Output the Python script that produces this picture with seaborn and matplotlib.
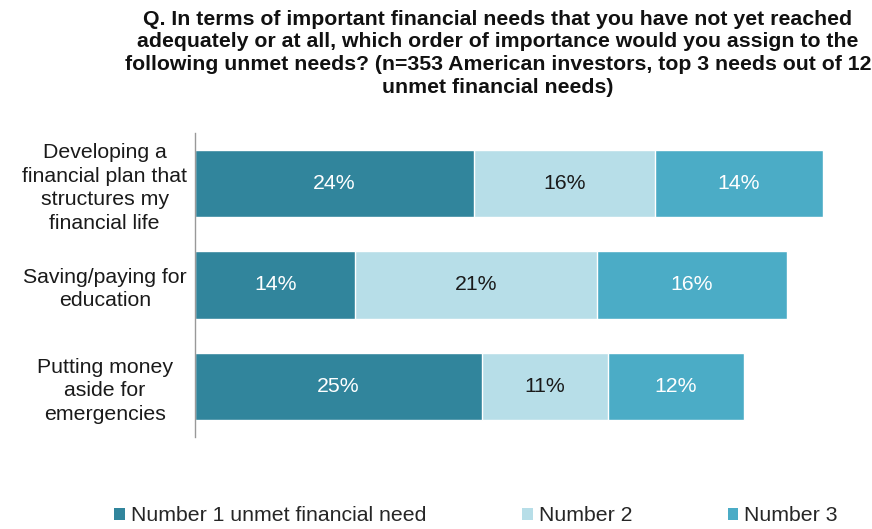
import matplotlib
matplotlib.use("Agg")
import matplotlib.pyplot as plt
import numpy as np
import pandas as pd
import seaborn as sns
from matplotlib.patches import Patch

categories = [
    "Developing a\nfinancial plan that\nstructures my\nfinancial life",
    "Saving/paying for\neducation",
    "Putting money\naside for\nemergencies",
]
series_names = ["Number 1 unmet financial need", "Number 2", "Number 3"]
need_1 = [24.0, 13.8, 24.7]
need_2 = [15.6, 20.8, 10.8]
need_3 = [14.4, 16.3, 11.7]
colors = ["#31859C", "#B7DEE8", "#4BACC6"]
text_colors = ["white", "#1a1a1a", "white"]

title = ("Q. In terms of important financial needs that you have not yet reached\n"
         "adequately or at all, which order of importance would you assign to the\n"
         "following unmet needs? (n=353 American investors, top 3 needs out of 12\n"
         "unmet financial needs)")

sns.set_style("white")
plt.rcParams["font.family"] = ["Liberation Sans", "DejaVu Sans"]
fs = 15.3

df = pd.DataFrame({"need": categories, "n1": need_1, "n2": need_2, "n3": need_3})
df["c1"] = df["n1"]
df["c2"] = df["n1"] + df["n2"]
df["c3"] = df["c2"] + df["n3"]

fig = plt.figure(figsize=(8.72, 5.29), dpi=100)
ax = fig.add_axes([0.2236, 0.1739, 0.7332, 0.5747])

# layered cumulative bars, widest first
for col, color in zip(["c3", "c2", "c1"], colors[::-1]):
    sns.barplot(data=df, x=col, y="need", color=color, width=0.667,
                saturation=1, ax=ax, orient="h")

# centered value labels
for i in range(len(categories)):
    left = 0
    for key, tc in zip(["n1", "n2", "n3"], text_colors):
        v = df[key][i]
        ax.text(left + v / 2, i, f"{round(v):.0f}%", ha="center", va="center",
                color=tc, fontsize=fs)
        left += v

ax.set_xlim(0, 55)
ax.set_ylim(2.5, -0.5)
ax.set_xlabel("")
ax.set_ylabel("")
ax.set_xticks([])
ax.tick_params(axis="y", length=0, pad=65)
for lab in ax.get_yticklabels():
    lab.set_ha("center")
    lab.set_multialignment("center")
    lab.set_fontsize(fs)
    lab.set_linespacing(1.3)
    lab.set_color("#1a1a1a")
for side in ["top", "right", "bottom"]:
    ax.spines[side].set_visible(False)
ax.spines["left"].set_color("#999999")
ax.spines["left"].set_linewidth(1)

fig.text(0.571, 0.982, title, ha="center", va="top", fontsize=fs,
         fontweight="bold", linespacing=1.26, color="#111111")

handles = [Patch(facecolor=c, edgecolor="none") for c in colors]
fig.legend(handles, series_names, loc="center", bbox_to_anchor=(0.546, 0.025),
           ncol=3, frameon=False, fontsize=fs, handlelength=0.5, handleheight=0.5,
           handletextpad=0.28, columnspacing=4.5, borderpad=0, borderaxespad=0)

fig.savefig("out.png", dpi=100)
